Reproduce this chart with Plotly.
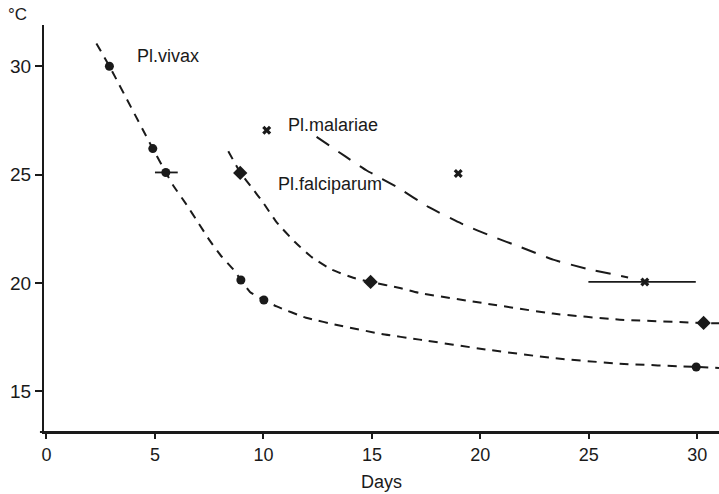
import plotly.graph_objects as go

# ---- data ----
# Pl. vivax observations (circles)
vivax_x = [2.9, 4.9, 5.5, 8.96, 10.02, 29.95]
vivax_y = [30.0, 26.2, 25.1, 20.14, 19.22, 16.13]
# horizontal range bar on one vivax point
vivax_bar_x = [5.5]
vivax_bar_y = [25.1]
vivax_bar_plus = [0.55]
vivax_bar_minus = [0.5]

# Pl. falciparum observations (diamonds)
falc_x = [8.93, 14.94, 30.29]
falc_y = [25.08, 20.05, 18.16]

# Pl. malariae observations (crosses)
mal_x = [10.15, 18.98, 27.58]
mal_y = [27.05, 25.05, 20.05]
mal_bar_plus = [0.0, 0.0, 2.35]
mal_bar_minus = [0.0, 0.0, 2.6]

# dashed fitted curves
vivax_curve_x = [2.3, 2.9, 4.9, 5.5, 5.84, 6.43, 7.0, 7.52, 8.03, 8.61, 8.96, 9.38,
                 10.02, 10.61, 11.96, 13.56, 15.45, 17.2, 20.29, 23.35, 26.43, 29.96, 31.0]
vivax_curve_y = [31.05, 30.0, 26.2, 25.1, 24.5, 23.65, 22.77, 21.97, 21.27, 20.63, 20.14, 19.59,
                 19.22, 18.92, 18.4, 18.03, 17.65, 17.39, 16.93, 16.54, 16.28, 16.13, 16.08]

falc_curve_x = [8.38, 8.93, 9.5, 9.98, 10.61, 11.45, 12.22, 13.14, 14.14, 14.94, 16.29, 17.2,
                20.29, 23.35, 26.43, 30.29, 31.0]
falc_curve_y = [26.08, 25.1, 24.35, 23.72, 22.8, 21.89, 21.2, 20.62, 20.24, 20.05, 19.77, 19.54,
                19.05, 18.59, 18.31, 18.16, 18.14]

mal_curve_x = [12.45, 13.76, 14.76, 16.2, 17.6, 19.13, 20.59, 21.82, 23.35, 24.89, 26.81]
mal_curve_y = [26.74, 25.85, 25.19, 24.4, 23.51, 22.74, 22.13, 21.67, 21.08, 20.66, 20.26]

x_ticks = [0, 5, 10, 15, 20, 25, 30]
y_ticks = [15, 20, 25, 30]

labels = ["Pl.vivax", "Pl.malariae", "Pl.falciparum"]
label_x = [4.08, 11.04, 10.58]
label_y = [30.45, 27.31, 24.59]

FONT = "Liberation Sans, Arial, sans-serif"
INK = "#1a1a1a"

fig = go.Figure()

line_style = dict(color=INK, width=2, shape="spline", smoothing=0.4)

fig.add_trace(go.Scatter(x=vivax_curve_x, y=vivax_curve_y, mode="lines",
                         line=dict(**line_style, dash="9px,7px"), hoverinfo="skip"))
fig.add_trace(go.Scatter(x=falc_curve_x, y=falc_curve_y, mode="lines",
                         line=dict(**line_style, dash="9px,7px"), hoverinfo="skip"))
fig.add_trace(go.Scatter(x=mal_curve_x, y=mal_curve_y, mode="lines",
                         line=dict(**line_style, dash="15px,11px"), hoverinfo="skip"))

fig.add_trace(go.Scatter(x=vivax_bar_x, y=vivax_bar_y, mode="markers",
                         marker=dict(size=1, color=INK),
                         error_x=dict(type="data", symmetric=False, array=vivax_bar_plus,
                                      arrayminus=vivax_bar_minus, thickness=1.8, width=0,
                                      color=INK)))
fig.add_trace(go.Scatter(x=mal_x, y=mal_y, mode="markers",
                         marker=dict(size=8, color=INK, symbol="x"),
                         error_x=dict(type="data", symmetric=False, array=mal_bar_plus,
                                      arrayminus=mal_bar_minus, thickness=1.8, width=0,
                                      color=INK)))
fig.add_trace(go.Scatter(x=vivax_x, y=vivax_y, mode="markers",
                         marker=dict(size=9, color=INK, symbol="circle")))
fig.add_trace(go.Scatter(x=falc_x, y=falc_y, mode="markers",
                         marker=dict(size=11, color=INK, symbol="diamond")))

for t, lx, ly in zip(labels, label_x, label_y):
    fig.add_annotation(x=lx, y=ly, text=t, showarrow=False, xanchor="left",
                       yanchor="middle", font=dict(family=FONT, size=18, color=INK))

fig.add_annotation(xref="paper", yref="paper", x=0.5, y=-0.123, text="Days",
                   showarrow=False, xanchor="center", yanchor="middle",
                   font=dict(family=FONT, size=18, color=INK))
fig.add_annotation(xref="paper", yref="paper", x=-0.04, y=1.025, text="°C",
                   showarrow=False, xanchor="center", yanchor="middle",
                   font=dict(family=FONT, size=17, color=INK))

# slight extension of the x-axis line to the left of the y-axis
fig.add_shape(type="line", xref="paper", yref="paper", x0=-0.006, x1=1, y0=0, y1=0,
              line=dict(color=INK, width=2))

fig.update_layout(
    width=719, height=494,
    margin=dict(l=44, r=0, t=25, b=62),
    paper_bgcolor="white", plot_bgcolor="white",
    showlegend=False,
    font=dict(family=FONT, size=18, color=INK),
    xaxis=dict(range=[-0.115, 31.0], tickvals=x_ticks, ticks="outside", ticklen=5,
               tickwidth=1.5, tickcolor=INK, showline=True, linecolor=INK, linewidth=2,
               showgrid=False, zeroline=False, tickfont=dict(size=18)),
    yaxis=dict(range=[13.13, 31.9], tickvals=y_ticks, ticks="outside", ticklen=7,
               tickwidth=1.5, tickcolor=INK, showline=True, linecolor=INK, linewidth=2,
               showgrid=False, zeroline=False, tickfont=dict(size=19)),
)

fig.write_html("out.html")
